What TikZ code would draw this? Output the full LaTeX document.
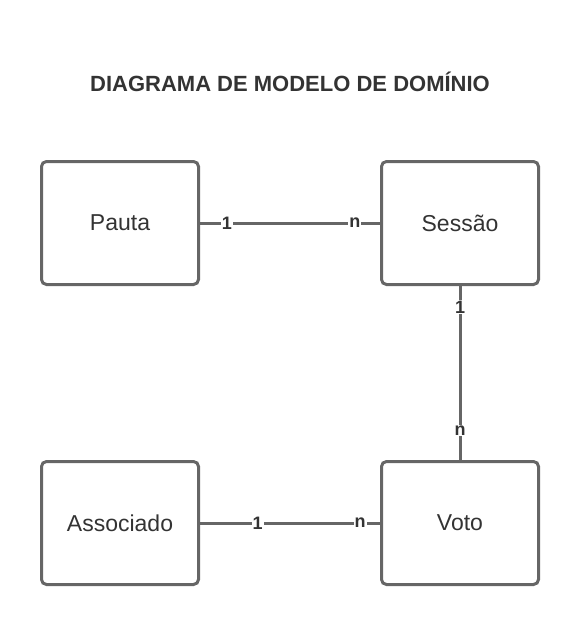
\documentclass[tikz,border=0pt]{standalone}
\usepackage{fontspec}
\setmainfont{Liberation Sans}
\usetikzlibrary{positioning}
\definecolor{linegray}{HTML}{666666}
\definecolor{textgray}{HTML}{333333}

\begin{document}
\begin{tikzpicture}[x=1pt, y=1pt,
	entity/.style={draw=linegray, line width=3pt, rounded corners=5pt,
		minimum width=157pt, minimum height=123pt, text=textgray,
		font=\fontsize{23}{27}\selectfont},
	card/.style={fill=white, inner sep=1pt, text=textgray,
		font=\bfseries\fontsize{18}{21}\selectfont},
	rel/.style={draw=linegray, line width=3pt},
	node distance=174pt and 180pt]
	
	\useasboundingbox (0,0) rectangle (580,-626);
	
	% Title
	\node[text=textgray, font=\bfseries\fontsize{22}{26}\selectfont] (titulo) at (290,-82) {DIAGRAMA DE MODELO DE DOMÍNIO};
	
	% Entities
	\node[entity] (pauta) at (120,-223) {Pauta};
	\node[entity, right=of pauta] (sessao) {Sessão};
	\node[entity, below=of sessao] (voto) {Voto};
	\node[entity, left=of voto] (associado) {Associado};
	
	% Relations
	\path (pauta) edge[rel] node[card, pos=0.15] {1} node[card, pos=0.86] {n} (sessao);
	\path (sessao) edge[rel] node[card, pos=0.12] {1} node[card, pos=0.83] {n} (voto);
	\path (associado) edge[rel] node[card, pos=0.32] {1} node[card, pos=0.89] {n} (voto);
	
\end{tikzpicture}
\end{document}
